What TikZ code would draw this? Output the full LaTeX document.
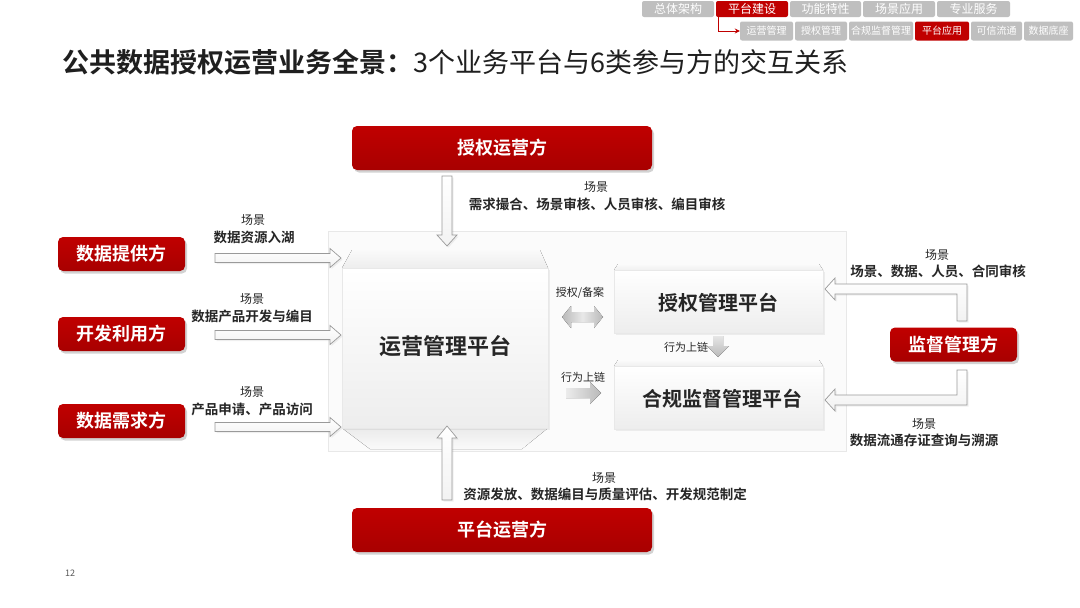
\documentclass[tikz,border=0pt]{standalone}
\usepackage{fontspec}
\setmainfont{Noto Sans CJK SC}[BoldFont={Noto Sans CJK SC Bold}]
\usetikzlibrary{shadows,arrows.meta}
\definecolor{hwred}{HTML}{C00000}
\definecolor{hwredd}{HTML}{A80000}
\definecolor{tabgray}{HTML}{BFBFBF}
\definecolor{txt}{HTML}{262626}
\definecolor{arrline}{HTML}{9A9A9A}
\newcommand\fsz[1]{\fontsize{#1}{#1}\selectfont}
\newcommand\rarrowat[1]{\draw[blk] (215,{#1-4.5}) -- (330,{#1-4.5}) -- (330,{#1-9.5}) -- (341,{#1}) -- (330,{#1+9.5}) -- (330,{#1+4.5}) -- (215,{#1+4.5}) -- cycle;}
\begin{document}
\begin{tikzpicture}[x=1pt,y=-1pt,
  every node/.style={inner sep=0pt, text=txt},
  redbox/.style={top color=hwred, bottom color=hwredd, rounded corners=5pt, text=white,
     font=\bfseries\fsz{18}, minimum width=300pt, minimum height=44pt,
     drop shadow={opacity=.35, shadow xshift=2pt, shadow yshift=-2.5pt}},
  smallred/.style={redbox, minimum width=127pt, minimum height=34pt},
  tab/.style={fill=tabgray, rounded corners=2pt, text=white, font=\fsz{12}, minimum height=16pt},
  tabsel/.style={tab, fill=hwred},
  subtab/.style={fill=tabgray, rounded corners=2pt, text=white, font=\fsz{10}, minimum height=19pt},
  subtabsel/.style={subtab, fill=hwred},
  lblr/.style={font=\fsz{12}},
  lblb/.style={font=\bfseries\fsz{13.5}},
  lbls/.style={font=\fsz{11}},
  blk/.style={draw=arrline, line width=0.7pt, top color=white, bottom color=gray!10, line join=miter,
     drop shadow={opacity=.12, shadow xshift=1.5pt, shadow yshift=-1.5pt}},
  face/.style={top color=white, bottom color=gray!14, draw=gray!18, line width=0.4pt,
     drop shadow={opacity=.12, shadow xshift=2pt, shadow yshift=-2pt}},
  platt/.style={font=\bfseries\fsz{20}, text=black!85}
]
\useasboundingbox[fill=white] (0,0) rectangle (1080,608);

% ---------- navigation ----------
\node[tab, minimum width=72pt] (n1) at (678,9) {总体架构};
\node[tabsel, minimum width=72pt] (n2) at (752,9) {平台建设};
\node[tab, minimum width=71pt] (n3) at (825.5,9) {功能特性};
\node[tab, minimum width=72pt] (n4) at (899,9) {场景应用};
\node[tab, minimum width=73pt] (n5) at (973.5,9) {专业服务};
\node[subtab, minimum width=53pt] (s1) at (766.5,31) {运营管理};
\node[subtab, minimum width=52pt] (s2) at (821,31) {授权管理};
\node[subtab, minimum width=64pt] (s3) at (881,31) {合规监督管理};
\node[subtabsel, minimum width=54pt] (s4) at (942,31) {平台应用};
\node[subtab, minimum width=51pt] (s5) at (996.5,31) {可信流通};
\node[subtab, minimum width=49pt] (s6) at (1048.5,31) {数据底座};
\draw[hwred, line width=0.8pt, -{Stealth[length=5pt,width=5pt]}] (n2.south -| 718,0) |- (s1.west);

% ---------- title ----------
\node[anchor=west, font=\fsz{27}, text=black!88] (title) at (62,62) {{\bfseries 公共数据授权运营业务全景：}3个业务平台与6类参与方的交互关系};

% ---------- panel ----------
\node[draw=gray!18, fill=gray!3, minimum width=518pt, minimum height=220pt, line width=0.5pt] (pan) at (587,341) {};

% ---------- operations platform (pillow) ----------
\fill[top color=gray!4, bottom color=gray!14] (342,268) -- (352,250) -- (540,250) -- (548,268) -- cycle;
\fill[top color=gray!16, bottom color=gray!4] (342,428) -- (548,428) -- (522,449) -- (370,449) -- cycle;
\node[face, minimum width=206pt, minimum height=160pt] (yy) at (445,348) {};
\node[platt, font=\bfseries\fsz{22}] (yyt) at (445,346) {运营管理平台};

% ---------- authorization platform ----------
\fill[top color=gray!3, bottom color=gray!12] (614,270) -- (618,264) -- (819,264) -- (823,270) -- cycle;
\node[face, minimum width=209pt, minimum height=63pt] (sq) at (718.5,301.5) {};
\node[platt] (sqt) at (718,303) {授权管理平台};

% ---------- compliance platform ----------
\fill[top color=gray!3, bottom color=gray!12] (614,366) -- (618,360) -- (819,360) -- (823,366) -- cycle;
\node[face, minimum width=209pt, minimum height=63pt] (hg) at (718.5,397.5) {};
\node[platt] (hgt) at (722,399) {合规监督管理平台};

% ---------- parties ----------
\node[redbox] (sqy) at (502,148) {授权运营方};
\node[redbox] (pty) at (502,530) {平台运营方};
\node[smallred] (tgf) at (121.5,254) {数据提供方};
\node[smallred] (kff) at (121.5,334) {开发利用方};
\node[smallred] (xqf) at (121.5,421) {数据需求方};
\node[smallred] (jdf) at (953.5,344.5) {监督管理方};

% ---------- block arrows ----------
\draw[blk] (442,176) -- (452,176) -- (452,235) -- (457,235) -- (447,246) -- (437,235) -- (442,235) -- cycle;
\draw[blk] (442,500) -- (452,500) -- (452,438) -- (457,438) -- (447,426) -- (437,438) -- (442,438) -- cycle;
\rarrowat{258}
\rarrowat{335}
\rarrowat{427}
\draw[blk] (825,289) -- (835,278) -- (835,284) -- (967,284) -- (967,321) -- (957,321) -- (957,294) -- (835,294) -- (835,300) -- cycle;
\draw[blk] (825,400) -- (835,389) -- (835,395) -- (957,395) -- (957,370) -- (967,370) -- (967,405) -- (835,405) -- (835,411) -- cycle;

% ---------- inner gray arrows ----------
\fill[left color=gray!55, right color=gray!55, middle color=gray!18] (562,317) -- (571,306) -- (571,312) -- (594,312) -- (594,306) -- (603,317) -- (594,328) -- (594,322) -- (571,322) -- (571,328) -- cycle;
\fill[left color=gray!15, right color=gray!55] (566,388) -- (590,388) -- (590,382) -- (601,393) -- (590,404) -- (590,398) -- (566,398) -- cycle;
\fill[top color=gray!20, bottom color=gray!55] (713,336) -- (723,336) -- (723,346) -- (729,346) -- (718,357) -- (707,346) -- (713,346) -- cycle;

% ---------- labels ----------
\node[lblr] (l1a) at (596,187) {场景};
\node[lblb] (l1b) at (597,204) {需求撮合、场景审核、人员审核、编目审核};
\node[lblr] (l2a) at (253,220) {场景};
\node[lblb] (l2b) at (254,237) {数据资源入湖};
\node[lblr] (l3a) at (252,299) {场景};
\node[lblb] (l3b) at (252,316) {数据产品开发与编目};
\node[lblr] (l4a) at (252,392) {场景};
\node[lblb] (l4b) at (252,409) {产品申请、产品访问};
\node[lblr] (l5a) at (937,255) {场景};
\node[lblb] (l5b) at (938,271) {场景、数据、人员、合同审核};
\node[lblr] (l6a) at (924,424) {场景};
\node[lblb] (l6b) at (924,440) {数据流通存证查询与溯源};
\node[lblr] (l7a) at (604,478) {场景};
\node[lblb] (l7b) at (605,494) {资源发放、数据编目与质量评估、开发规范制定};
\node[lbls] (m1) at (580,293) {授权/备案};
\node[lbls] (m2) at (686,347) {行为上链};
\node[lbls] (m3) at (583,377) {行为上链};

\node[font=\fsz{9}, text=gray!70!black] (pg) at (70,573) {12};
\end{tikzpicture}
\end{document}
